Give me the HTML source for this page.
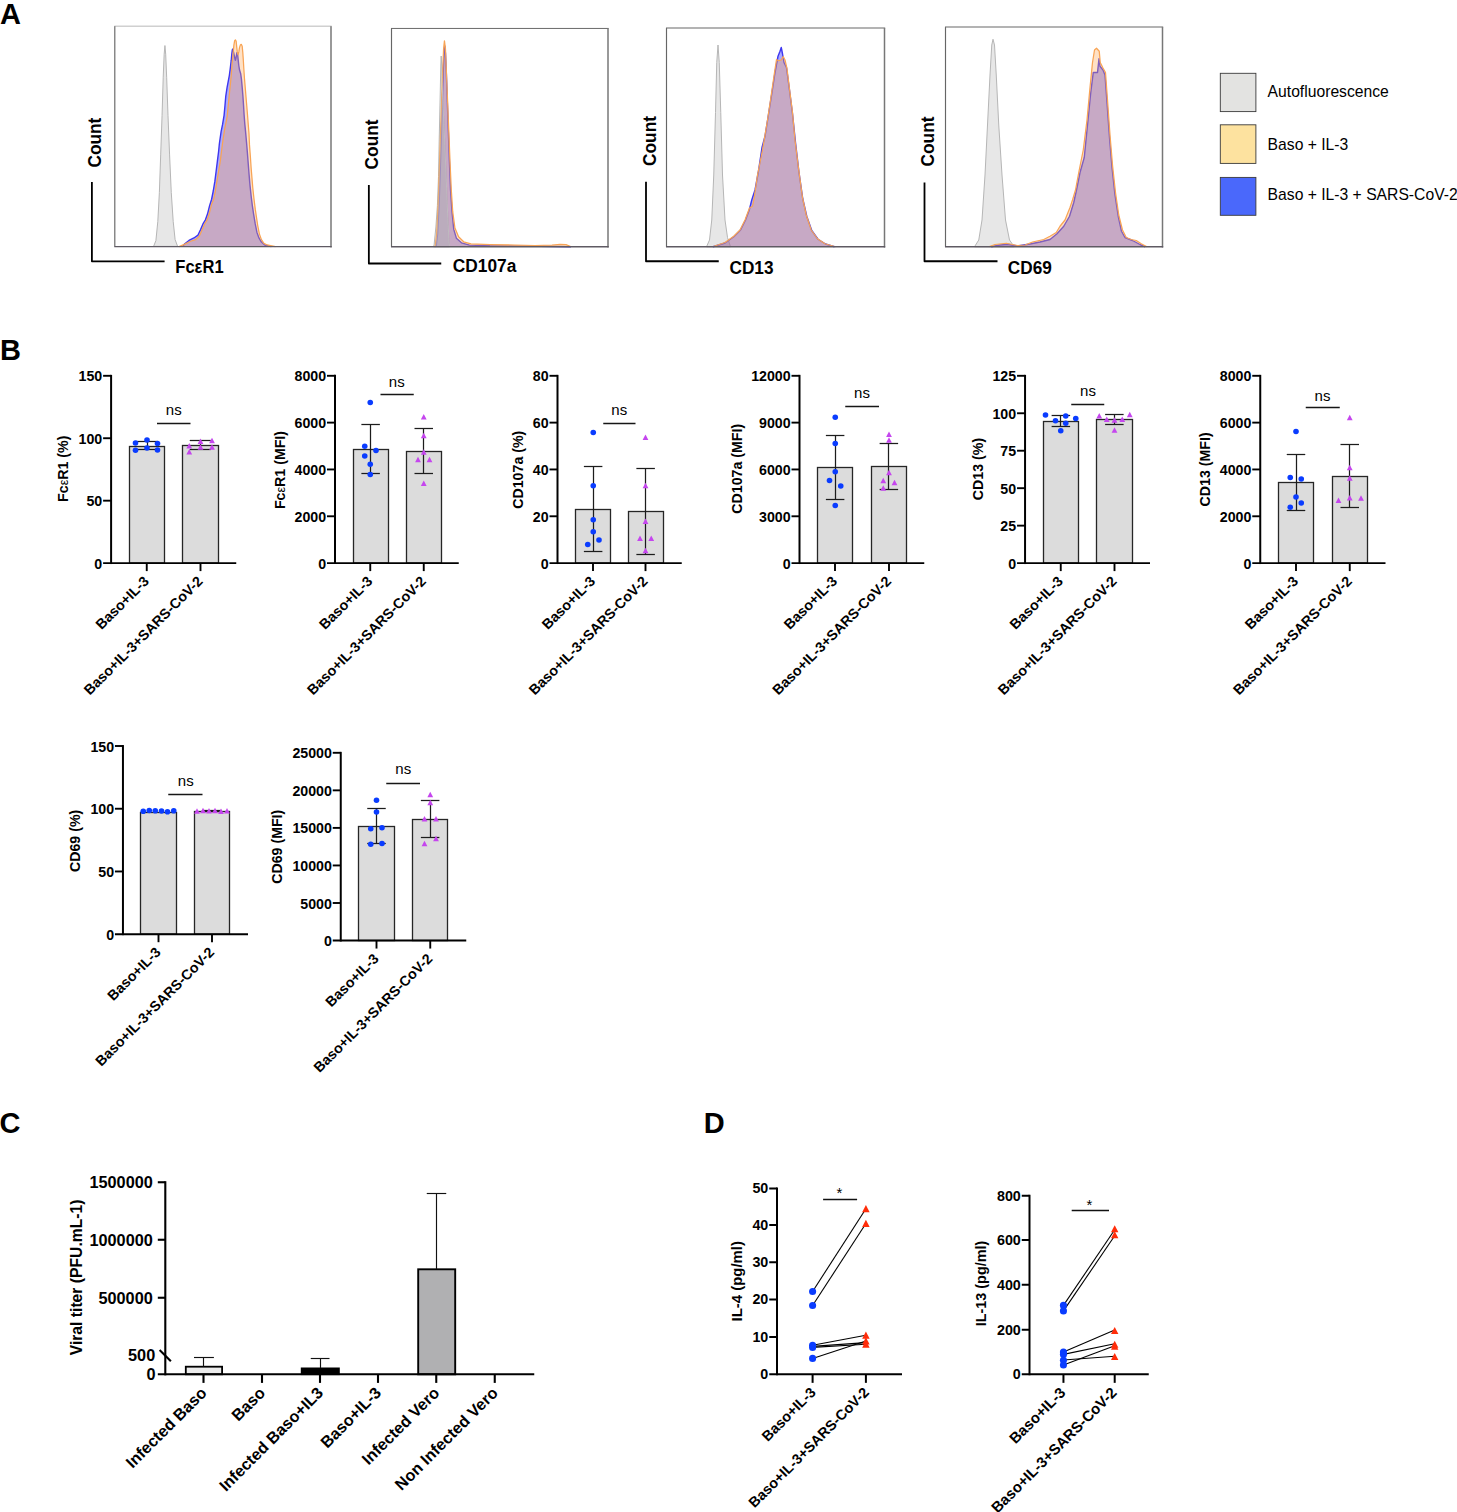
<!DOCTYPE html>
<html><head><meta charset="utf-8"><title>Figure</title>
<style>
html,body{margin:0;padding:0;background:#fff;}
body{width:1457px;height:1512px;overflow:hidden;font-family:"Liberation Sans",sans-serif;}
svg{display:block;}
svg text{font-family:"Liberation Sans",sans-serif;fill:#000;}
</style></head><body>
<svg width="1457" height="1512" viewBox="0 0 1457 1512">
<rect width="1457" height="1512" fill="#fff"/>
<text x="0" y="24" font-size="29" font-weight="bold" text-anchor="start">A</text>
<text x="0" y="360.3" font-size="29" font-weight="bold" text-anchor="start">B</text>
<text x="-0.5" y="1132.6" font-size="29" font-weight="bold" text-anchor="start">C</text>
<text x="703.8" y="1132.5" font-size="29" font-weight="bold" text-anchor="start">D</text>
<line x1="114.3" y1="26.26" x2="331.7" y2="26.26" stroke="#d0d0d0" stroke-width="1.4"/>
<line x1="114.8" y1="26.26" x2="114.8" y2="246.6" stroke="#666" stroke-width="1.15"/>
<line x1="331" y1="26.26" x2="331" y2="247.4" stroke="#777" stroke-width="1.5"/>
<path d="M153.6 246.36L155.9 240.59L157.82 221.38L159.36 192.55L160.71 154.12L162.05 115.69L163.21 77.26L164.17 54.2L164.93 45.55L165.7 54.2L166.66 77.26L168.01 115.69L169.55 154.12L171.28 192.55L173.2 221.38L175.12 239.63L177.62 246.36Z" fill="#e7e7e7" stroke="#b6b6b6" stroke-width="1" stroke-linejoin="round"/>
<path d="M182.36 246.61L184.83 243.73L188.95 240.44L193.89 237.97L198.01 235.08L200.48 229.73L202.95 223.96L205.42 219.84L207.48 214.08L209.54 205.84L211.6 199.25L213.25 191.01L214.89 181.13L216.13 171.24L217.36 161.36L218.6 151.47L219.42 143.24L221.06 131.93L222.57 124.38L224.08 115.32L224.98 105.5L225.74 96.44L227.1 87.38L228.23 81.34L229.36 75.3L230.34 67.75L231.25 60.2L231.78 54.16L232.38 49.63L232.98 48.88L233.51 51.9L234.27 55.67L235.02 59.07L235.4 60.2L236 57.94L236.91 52.65L237.51 53.41L238.04 58.69L238.8 65.49L239.55 70.02L240.69 73.79L241.44 79.08L242.2 87.38L242.95 96.44L243.55 105.5L244.08 114.56L244.84 124.38L245.59 131.93L246.61 143.24L247.43 153.12L248.25 163.83L249.08 174.54L249.9 184.42L251.14 195.96L252.37 205.84L253.61 214.08L255.26 223.96L256.9 232.2L258.96 237.97L261.43 242.08L264.73 244.97L271.32 246.61Z" fill="#2828ff" fill-opacity="0.4" stroke="none"/>
<path d="M182.36 246.61L184.83 243.73L188.95 240.44L193.89 237.97L198.01 235.08L200.48 229.73L202.95 223.96L205.42 219.84L207.48 214.08L209.54 205.84L211.6 199.25L213.25 191.01L214.89 181.13L216.13 171.24L217.36 161.36L218.6 151.47L219.42 143.24L221.06 131.93L222.57 124.38L224.08 115.32L224.98 105.5L225.74 96.44L227.1 87.38L228.23 81.34L229.36 75.3L230.34 67.75L231.25 60.2L231.78 54.16L232.38 49.63L232.98 48.88L233.51 51.9L234.27 55.67L235.02 59.07L235.4 60.2L236 57.94L236.91 52.65L237.51 53.41L238.04 58.69L238.8 65.49L239.55 70.02L240.69 73.79L241.44 79.08L242.2 87.38L242.95 96.44L243.55 105.5L244.08 114.56L244.84 124.38L245.59 131.93L246.61 143.24L247.43 153.12L248.25 163.83L249.08 174.54L249.9 184.42L251.14 195.96L252.37 205.84L253.61 214.08L255.26 223.96L256.9 232.2L258.96 237.97L261.43 242.08L264.73 244.97L271.32 246.61" fill="none" stroke="#3d36f0" stroke-width="1.4" stroke-linejoin="round"/>
<path d="M179.06 246.61L184.83 244.14L190.59 241.26L195.54 239.61L199.24 236.32L202.13 229.73L204.6 223.96L207.07 219.84L209.54 212.43L211.6 204.19L213.66 199.25L215.3 191.01L216.95 181.13L218.6 171.24L220.25 161.36L221.48 151.47L222.72 141.59L224.83 128.15L227.1 116.83L228.23 105.5L229.36 94.18L230.49 82.85L231.25 75.3L231.78 67.75L232.38 60.2L233.14 52.65L233.89 45.1L234.65 40.57L235.4 39.82L236.16 41.33L236.76 47.37L237.29 51.9L238.04 54.92L238.8 51.9L239.55 47.37L240.31 45.1L241.29 44.35L242.2 46.23L242.8 52.65L243.33 60.2L243.86 69.26L244.46 78.32L245.22 87.38L245.97 96.44L246.73 105.5L247.48 114.56L248.24 124.38L248.99 133.44L249.49 144.88L250.31 155.59L251.14 167.95L251.96 177.83L252.78 187.72L254.02 199.25L255.26 209.14L256.49 217.37L257.73 225.61L259.37 233.85L261.43 239.61L263.9 243.32L267.2 244.97L275.44 246.61Z" fill="#ffaa5a" fill-opacity="0.35" stroke="none"/>
<path d="M179.06 246.61L184.83 244.14L190.59 241.26L195.54 239.61L199.24 236.32L202.13 229.73L204.6 223.96L207.07 219.84L209.54 212.43L211.6 204.19L213.66 199.25L215.3 191.01L216.95 181.13L218.6 171.24L220.25 161.36L221.48 151.47L222.72 141.59L224.83 128.15L227.1 116.83L228.23 105.5L229.36 94.18L230.49 82.85L231.25 75.3L231.78 67.75L232.38 60.2L233.14 52.65L233.89 45.1L234.65 40.57L235.4 39.82L236.16 41.33L236.76 47.37L237.29 51.9L238.04 54.92L238.8 51.9L239.55 47.37L240.31 45.1L241.29 44.35L242.2 46.23L242.8 52.65L243.33 60.2L243.86 69.26L244.46 78.32L245.22 87.38L245.97 96.44L246.73 105.5L247.48 114.56L248.24 124.38L248.99 133.44L249.49 144.88L250.31 155.59L251.14 167.95L251.96 177.83L252.78 187.72L254.02 199.25L255.26 209.14L256.49 217.37L257.73 225.61L259.37 233.85L261.43 239.61L263.9 243.32L267.2 244.97L275.44 246.61" fill="none" stroke="#f8a455" stroke-width="1.25" stroke-linejoin="round"/>
<line x1="114.3" y1="246.6" x2="331.7" y2="246.6" stroke="#5f5a63" stroke-width="1.3"/>
<path d="M91.9 182L91.9 261.3L164.6 261.3" fill="none" stroke="#000" stroke-width="1.8" stroke-linejoin="round"/>
<text x="101.2" y="142.6" font-size="19" font-weight="bold" text-anchor="middle" transform="rotate(-90 101.2 142.6)" textLength="50" lengthAdjust="spacingAndGlyphs">Count</text>
<text x="175.3" y="273" font-size="17.5" font-weight="bold" text-anchor="start" textLength="48.3" lengthAdjust="spacingAndGlyphs">FcεR1</text>
<line x1="391" y1="28.45" x2="608.7" y2="28.45" stroke="#6a6a6a" stroke-width="1.0"/>
<line x1="391.5" y1="28.45" x2="391.5" y2="246.75" stroke="#666" stroke-width="1.15"/>
<line x1="608" y1="28.45" x2="608" y2="247.55" stroke="#777" stroke-width="1.5"/>
<path d="M433.5 246.75L434.1 244.8L435.9 227L437.4 205.5L438.5 176.4L439.2 140L440.2 95L440.8 65L441.2 56L441.7 65L442.6 95L444.65 140L446.1 176L447.6 213L449 242L449.6 246.75Z" fill="#e7e7e7" stroke="#b6b6b6" stroke-width="1" stroke-linejoin="round"/>
<path d="M435.4 246.75L436.3 245.43L437.61 233.78L439.07 204.67L440.52 161L441.83 117.34L443.14 73.67L444.02 53.29L444.75 46.01L445.47 53.29L446.35 73.67L447.37 102.78L448.38 131.89L449.4 161L450.57 190.12L452.02 211.95L453.77 229.42L456.39 238.15L461.48 242.81L469.49 245.14L490 245.8L540 246.2L571 246.75Z" fill="#2828ff" fill-opacity="0.4" stroke="none"/>
<path d="M435.4 246.75L436.3 245.43L437.61 233.78L439.07 204.67L440.52 161L441.83 117.34L443.14 73.67L444.02 53.29L444.75 46.01L445.47 53.29L446.35 73.67L447.37 102.78L448.38 131.89L449.4 161L450.57 190.12L452.02 211.95L453.77 229.42L456.39 238.15L461.48 242.81L469.49 245.14L490 245.8L540 246.2L571 246.75" fill="none" stroke="#3d36f0" stroke-width="1.4" stroke-linejoin="round"/>
<path d="M434.6 246.75L435.28 245.43L436.74 233.78L438.2 204.67L439.65 161L441.11 117.34L442.56 73.67L443.58 48.92L444.45 40.92L445.47 48.92L446.49 73.67L447.66 102.78L448.82 131.89L449.99 161L451.3 190.12L452.75 211.95L454.93 227.96L458.57 236.7L463.67 241.79L470.95 243.97L490 244.6L515 245.1L535 245.5L552 245.2L560 244.3L566 244.6L571.25 246.75Z" fill="#ffaa5a" fill-opacity="0.35" stroke="none"/>
<path d="M434.6 246.75L435.28 245.43L436.74 233.78L438.2 204.67L439.65 161L441.11 117.34L442.56 73.67L443.58 48.92L444.45 40.92L445.47 48.92L446.49 73.67L447.66 102.78L448.82 131.89L449.99 161L451.3 190.12L452.75 211.95L454.93 227.96L458.57 236.7L463.67 241.79L470.95 243.97L490 244.6L515 245.1L535 245.5L552 245.2L560 244.3L566 244.6L571.25 246.75" fill="none" stroke="#f8a455" stroke-width="1.25" stroke-linejoin="round"/>
<clipPath id="cg2"><path d="M434.6 246.75L435.28 245.43L436.74 233.78L438.2 204.67L439.65 161L441.11 117.34L442.56 73.67L443.58 48.92L444.45 40.92L445.47 48.92L446.49 73.67L447.66 102.78L448.82 131.89L449.99 161L451.3 190.12L452.75 211.95L454.93 227.96L458.57 236.7L463.67 241.79L470.95 243.97L490 244.6L515 245.1L535 245.5L552 245.2L560 244.3L566 244.6L571.25 246.75Z"/></clipPath>
<path d="M433.5 246.75L434.1 244.8L435.9 227L437.4 205.5L438.5 176.4L439.2 140L440.2 95L440.8 65L441.2 56L441.7 65L442.6 95L444.65 140L446.1 176L447.6 213L449 242L449.6 246.75Z" fill="#b9b9c0" fill-opacity="0.5" stroke="#c4c4c4" stroke-width="0.8" clip-path="url(#cg2)"/>
<line x1="391" y1="246.75" x2="608.7" y2="246.75" stroke="#5f5a63" stroke-width="1.3"/>
<path d="M368.85 185L368.85 263.5L441.25 263.5" fill="none" stroke="#000" stroke-width="1.8" stroke-linejoin="round"/>
<text x="378" y="144.4" font-size="19" font-weight="bold" text-anchor="middle" transform="rotate(-90 378 144.4)" textLength="50" lengthAdjust="spacingAndGlyphs">Count</text>
<text x="452.8" y="271.7" font-size="17.5" font-weight="bold" text-anchor="start" textLength="63.5" lengthAdjust="spacingAndGlyphs">CD107a</text>
<line x1="666" y1="28.07" x2="885.2" y2="28.07" stroke="#9a9a9a" stroke-width="1.5"/>
<line x1="666.5" y1="28.07" x2="666.5" y2="246.75" stroke="#666" stroke-width="1.15"/>
<line x1="884.5" y1="28.07" x2="884.5" y2="247.55" stroke="#777" stroke-width="1.5"/>
<path d="M706.5 246.75L709.5 240L711.75 220L713.75 175L715.5 112.5L716.75 62.5L718 45L719.25 62.5L720.75 112.5L722.5 175L725 220L727.5 237.5L730.5 246.75Z" fill="#e7e7e7" stroke="#b6b6b6" stroke-width="1" stroke-linejoin="round"/>
<path d="M713 246.75L725 243L733.75 236.75L740.5 230L745.5 220L749.25 210L751.75 200L755 190L758.25 172.5L762 147.5L765 136.25L768 117.5L771.75 93.75L775 72.5L778 56.25L780 51.25L781.25 47.5L782.5 53.75L784 62.5L786.5 67.5L789 86.25L792.5 113.75L795.5 142.5L799 172.5L802.75 198.75L806.75 216.25L811.75 230.5L818 239.25L825.5 244L834.5 246.75Z" fill="#2828ff" fill-opacity="0.4" stroke="none"/>
<path d="M713 246.75L725 243L733.75 236.75L740.5 230L745.5 220L749.25 210L751.75 200L755 190L758.25 172.5L762 147.5L765 136.25L768 117.5L771.75 93.75L775 72.5L778 56.25L780 51.25L781.25 47.5L782.5 53.75L784 62.5L786.5 67.5L789 86.25L792.5 113.75L795.5 142.5L799 172.5L802.75 198.75L806.75 216.25L811.75 230.5L818 239.25L825.5 244L834.5 246.75" fill="none" stroke="#3d36f0" stroke-width="1.4" stroke-linejoin="round"/>
<path d="M712.5 246.75L725 242.5L733.75 236.25L740 230L745 220L749.5 208L752.5 206.25L754.25 197.5L757.5 175L762.5 150L767.5 120L771.25 95L774.5 72.5L776.5 59.5L778.5 60.75L781.25 60L783.25 56.5L785 60L787 68.75L789 85L792.5 112.5L795 140L798.75 170L802.5 197.5L806.25 215L811.25 230L817.5 238.75L825 243.75L835.5 246.75Z" fill="#ffaa5a" fill-opacity="0.35" stroke="none"/>
<path d="M712.5 246.75L725 242.5L733.75 236.25L740 230L745 220L749.5 208L752.5 206.25L754.25 197.5L757.5 175L762.5 150L767.5 120L771.25 95L774.5 72.5L776.5 59.5L778.5 60.75L781.25 60L783.25 56.5L785 60L787 68.75L789 85L792.5 112.5L795 140L798.75 170L802.5 197.5L806.25 215L811.25 230L817.5 238.75L825 243.75L835.5 246.75" fill="none" stroke="#f8a455" stroke-width="1.25" stroke-linejoin="round"/>
<line x1="666" y1="246.75" x2="885.2" y2="246.75" stroke="#5f5a63" stroke-width="1.3"/>
<path d="M646 181.75L646 261.25L718.75 261.25" fill="none" stroke="#000" stroke-width="1.8" stroke-linejoin="round"/>
<text x="655.5" y="141" font-size="19" font-weight="bold" text-anchor="middle" transform="rotate(-90 655.5 141)" textLength="50" lengthAdjust="spacingAndGlyphs">Count</text>
<text x="729.5" y="273.7" font-size="17.5" font-weight="bold" text-anchor="start" textLength="44" lengthAdjust="spacingAndGlyphs">CD13</text>
<line x1="945" y1="27.08" x2="1163.2" y2="27.08" stroke="#9a9a9a" stroke-width="1.5"/>
<line x1="945.5" y1="27.08" x2="945.5" y2="246.75" stroke="#666" stroke-width="1.15"/>
<line x1="1162.5" y1="27.08" x2="1162.5" y2="247.55" stroke="#777" stroke-width="1.5"/>
<path d="M974.5 246.75L978.75 240L982 220L985 175L987.5 125L990 75L991.75 45L993 39.25L994.5 45L996.25 75L998.75 125L1002 175L1005.5 220L1009.5 240L1014.25 246.75Z" fill="#e7e7e7" stroke="#b6b6b6" stroke-width="1" stroke-linejoin="round"/>
<path d="M991.25 246.75L1000 245L1007.5 244.25L1017.5 246L1030 244L1040 242L1050 239.5L1057 233.75L1063.75 226.25L1069.5 216.25L1073.75 202.5L1077 187.5L1080 172.5L1084.25 157.5L1087.5 125L1090.75 92.5L1093.25 72.5L1097.5 72.5L1099 58.75L1100 66.25L1103 70L1105 75L1107 102.5L1109.5 137.5L1112 167.5L1115 195L1118.25 216.25L1121.5 231.25L1125 237.5L1132.5 240.5L1140 244.5L1145 246.75Z" fill="#2828ff" fill-opacity="0.4" stroke="none"/>
<path d="M991.25 246.75L1000 245L1007.5 244.25L1017.5 246L1030 244L1040 242L1050 239.5L1057 233.75L1063.75 226.25L1069.5 216.25L1073.75 202.5L1077 187.5L1080 172.5L1084.25 157.5L1087.5 125L1090.75 92.5L1093.25 72.5L1097.5 72.5L1099 58.75L1100 66.25L1103 70L1105 75L1107 102.5L1109.5 137.5L1112 167.5L1115 195L1118.25 216.25L1121.5 231.25L1125 237.5L1132.5 240.5L1140 244.5L1145 246.75" fill="none" stroke="#3d36f0" stroke-width="1.4" stroke-linejoin="round"/>
<path d="M988.75 246.75L995 244.5L1006.25 243.25L1017.5 245.5L1025 245L1032.5 242L1043.75 239.5L1050 236.25L1056.25 232.5L1060 226.25L1065 220L1070 207.5L1072.5 200L1075.5 190L1078.75 172.5L1083.25 150L1087 120L1090 87.5L1092.5 62.5L1094.5 50L1096.5 48.25L1099.25 51.25L1100.25 62.5L1103 68L1105.5 72.5L1107.5 100L1110 135L1112.5 165L1115.5 192.5L1118.75 215L1122.5 230L1126.25 237.5L1131.25 239.5L1136.25 240.5L1141.25 243.75L1147 246.75Z" fill="#ffaa5a" fill-opacity="0.35" stroke="none"/>
<path d="M988.75 246.75L995 244.5L1006.25 243.25L1017.5 245.5L1025 245L1032.5 242L1043.75 239.5L1050 236.25L1056.25 232.5L1060 226.25L1065 220L1070 207.5L1072.5 200L1075.5 190L1078.75 172.5L1083.25 150L1087 120L1090 87.5L1092.5 62.5L1094.5 50L1096.5 48.25L1099.25 51.25L1100.25 62.5L1103 68L1105.5 72.5L1107.5 100L1110 135L1112.5 165L1115.5 192.5L1118.75 215L1122.5 230L1126.25 237.5L1131.25 239.5L1136.25 240.5L1141.25 243.75L1147 246.75" fill="none" stroke="#f8a455" stroke-width="1.25" stroke-linejoin="round"/>
<line x1="945" y1="246.75" x2="1163.2" y2="246.75" stroke="#5f5a63" stroke-width="1.3"/>
<path d="M924.5 182.5L924.5 261.25L997.5 261.25" fill="none" stroke="#000" stroke-width="1.8" stroke-linejoin="round"/>
<text x="934" y="141.5" font-size="19" font-weight="bold" text-anchor="middle" transform="rotate(-90 934 141.5)" textLength="50" lengthAdjust="spacingAndGlyphs">Count</text>
<text x="1007.8" y="273.7" font-size="17.5" font-weight="bold" text-anchor="start" textLength="44" lengthAdjust="spacingAndGlyphs">CD69</text>
<rect x="1220.3" y="73.3" width="35.6" height="38.3" fill="#e3e3e1" stroke="#3a3a3a" stroke-width="0.9"/>
<rect x="1220.3" y="124.8" width="35.6" height="38.6" fill="#fde29f" stroke="#3a3a3a" stroke-width="0.9"/>
<rect x="1220.3" y="177.4" width="35.6" height="37.9" fill="#4a68fb" stroke="#3a3a3a" stroke-width="0.9"/>
<text x="1267.6" y="96.7" font-size="15.7" font-weight="normal" text-anchor="start">Autofluorescence</text>
<text x="1267.6" y="150.2" font-size="15.7" font-weight="normal" text-anchor="start">Baso + IL-3</text>
<text x="1267.6" y="199.9" font-size="15.7" font-weight="normal" text-anchor="start">Baso + IL-3 + SARS-CoV-2</text>
<rect x="129.5" y="446.5" width="35" height="116.6" fill="#dcdcdc" stroke="#262626" stroke-width="1.3"/>
<rect x="182.5" y="445.5" width="36" height="117.6" fill="#dcdcdc" stroke="#262626" stroke-width="1.3"/>
<line x1="147.5" y1="441.75" x2="147.5" y2="449.5" stroke="#1c1c1c" stroke-width="1.25" stroke-linecap="butt"/>
<line x1="136.5" y1="441.5" x2="157.5" y2="441.5" stroke="#1c1c1c" stroke-width="1.25" stroke-linecap="butt"/>
<line x1="136.5" y1="449.5" x2="157.5" y2="449.5" stroke="#1c1c1c" stroke-width="1.25" stroke-linecap="butt"/>
<line x1="200.5" y1="440.5" x2="200.5" y2="449.5" stroke="#1c1c1c" stroke-width="1.25" stroke-linecap="butt"/>
<line x1="189.75" y1="440.5" x2="210.75" y2="440.5" stroke="#1c1c1c" stroke-width="1.25" stroke-linecap="butt"/>
<line x1="189.75" y1="449.5" x2="210.75" y2="449.5" stroke="#1c1c1c" stroke-width="1.25" stroke-linecap="butt"/>
<line x1="111.1" y1="374.85" x2="111.1" y2="564.05" stroke="#000" stroke-width="2.0" stroke-linecap="butt"/>
<line x1="103.1" y1="563.1" x2="236.25" y2="563.1" stroke="#000" stroke-width="1.9" stroke-linecap="butt"/>
<line x1="103.1" y1="375.8" x2="111.1" y2="375.8" stroke="#000" stroke-width="1.9" stroke-linecap="butt"/>
<text x="102.2" y="381.3" font-size="14.2" font-weight="bold" text-anchor="end">150</text>
<line x1="103.1" y1="438.23" x2="111.1" y2="438.23" stroke="#000" stroke-width="1.9" stroke-linecap="butt"/>
<text x="102.2" y="443.73" font-size="14.2" font-weight="bold" text-anchor="end">100</text>
<line x1="103.1" y1="500.67" x2="111.1" y2="500.67" stroke="#000" stroke-width="1.9" stroke-linecap="butt"/>
<text x="102.2" y="506.17" font-size="14.2" font-weight="bold" text-anchor="end">50</text>
<text x="102.2" y="568.6" font-size="14.2" font-weight="bold" text-anchor="end">0</text>
<line x1="146.75" y1="563.1" x2="146.75" y2="571.1" stroke="#000" stroke-width="1.9" stroke-linecap="butt"/>
<line x1="200.5" y1="563.1" x2="200.5" y2="571.1" stroke="#000" stroke-width="1.9" stroke-linecap="butt"/>
<circle cx="135.5" cy="443" r="2.8" fill="#0a3cff"/>
<circle cx="147" cy="440" r="2.8" fill="#0a3cff"/>
<circle cx="157.5" cy="443.5" r="2.8" fill="#0a3cff"/>
<circle cx="135.5" cy="450.25" r="2.8" fill="#0a3cff"/>
<circle cx="147" cy="448" r="2.8" fill="#0a3cff"/>
<circle cx="157.5" cy="450" r="2.8" fill="#0a3cff"/>
<path d="M186.35 448.45L192.15 448.45L189.25 443.05Z" fill="#c546ee"/>
<path d="M197.6 443.95L203.4 443.95L200.5 438.55Z" fill="#c546ee"/>
<path d="M209.1 443.2L214.9 443.2L212 437.8Z" fill="#c546ee"/>
<path d="M186.35 454.45L192.15 454.45L189.25 449.05Z" fill="#c546ee"/>
<path d="M197.6 449.7L203.4 449.7L200.5 444.3Z" fill="#c546ee"/>
<path d="M209.1 449.7L214.9 449.7L212 444.3Z" fill="#c546ee"/>
<text x="173.75" y="414.5" font-size="15" font-weight="normal" text-anchor="middle">ns</text>
<line x1="157" y1="423.5" x2="190.5" y2="423.5" stroke="#161616" stroke-width="1.3" stroke-linecap="butt"/>
<text x="68" y="468.75" font-size="14.2" font-weight="bold" text-anchor="middle" transform="rotate(-90 68 468.75)">Fc<tspan font-weight="normal" font-size="12.5">ε</tspan>R1 (%)</text>
<text x="149.75" y="582.1" font-size="14.2" font-weight="bold" text-anchor="end" transform="rotate(-45 149.75 582.1)">Baso+IL-3</text>
<text x="203.5" y="582.1" font-size="14.2" font-weight="bold" text-anchor="end" transform="rotate(-45 203.5 582.1)">Baso+IL-3+SARS-CoV-2</text>
<rect x="353.5" y="449.5" width="35" height="113.6" fill="#dcdcdc" stroke="#262626" stroke-width="1.3"/>
<rect x="406.5" y="451.5" width="35" height="111.6" fill="#dcdcdc" stroke="#262626" stroke-width="1.3"/>
<line x1="370.5" y1="424.25" x2="370.5" y2="473.75" stroke="#1c1c1c" stroke-width="1.25" stroke-linecap="butt"/>
<line x1="361.38" y1="424.5" x2="379.88" y2="424.5" stroke="#1c1c1c" stroke-width="1.25" stroke-linecap="butt"/>
<line x1="361.38" y1="473.5" x2="379.88" y2="473.5" stroke="#1c1c1c" stroke-width="1.25" stroke-linecap="butt"/>
<line x1="423.5" y1="428" x2="423.5" y2="473.5" stroke="#1c1c1c" stroke-width="1.25" stroke-linecap="butt"/>
<line x1="414.5" y1="428.5" x2="433" y2="428.5" stroke="#1c1c1c" stroke-width="1.25" stroke-linecap="butt"/>
<line x1="414.5" y1="473.5" x2="433" y2="473.5" stroke="#1c1c1c" stroke-width="1.25" stroke-linecap="butt"/>
<line x1="335" y1="374.85" x2="335" y2="564.05" stroke="#000" stroke-width="2.0" stroke-linecap="butt"/>
<line x1="327" y1="563.1" x2="458.75" y2="563.1" stroke="#000" stroke-width="1.9" stroke-linecap="butt"/>
<line x1="327" y1="375.8" x2="335" y2="375.8" stroke="#000" stroke-width="1.9" stroke-linecap="butt"/>
<text x="326.1" y="381.3" font-size="14.2" font-weight="bold" text-anchor="end">8000</text>
<line x1="327" y1="422.62" x2="335" y2="422.62" stroke="#000" stroke-width="1.9" stroke-linecap="butt"/>
<text x="326.1" y="428.12" font-size="14.2" font-weight="bold" text-anchor="end">6000</text>
<line x1="327" y1="469.45" x2="335" y2="469.45" stroke="#000" stroke-width="1.9" stroke-linecap="butt"/>
<text x="326.1" y="474.95" font-size="14.2" font-weight="bold" text-anchor="end">4000</text>
<line x1="327" y1="516.28" x2="335" y2="516.28" stroke="#000" stroke-width="1.9" stroke-linecap="butt"/>
<text x="326.1" y="521.78" font-size="14.2" font-weight="bold" text-anchor="end">2000</text>
<text x="326.1" y="568.6" font-size="14.2" font-weight="bold" text-anchor="end">0</text>
<line x1="370.25" y1="563.1" x2="370.25" y2="571.1" stroke="#000" stroke-width="1.9" stroke-linecap="butt"/>
<line x1="423.75" y1="563.1" x2="423.75" y2="571.1" stroke="#000" stroke-width="1.9" stroke-linecap="butt"/>
<circle cx="370.25" cy="402.5" r="2.8" fill="#0a3cff"/>
<circle cx="364.75" cy="446.25" r="2.8" fill="#0a3cff"/>
<circle cx="376" cy="450.5" r="2.8" fill="#0a3cff"/>
<circle cx="364.75" cy="456" r="2.8" fill="#0a3cff"/>
<circle cx="370.25" cy="464.25" r="2.8" fill="#0a3cff"/>
<circle cx="370.25" cy="474.5" r="2.8" fill="#0a3cff"/>
<path d="M420.85 419.45L426.65 419.45L423.75 414.05Z" fill="#c546ee"/>
<path d="M420.85 438.2L426.65 438.2L423.75 432.8Z" fill="#c546ee"/>
<path d="M420.85 454.7L426.65 454.7L423.75 449.3Z" fill="#c546ee"/>
<path d="M415.1 462.2L420.9 462.2L418 456.8Z" fill="#c546ee"/>
<path d="M426.6 462.2L432.4 462.2L429.5 456.8Z" fill="#c546ee"/>
<path d="M420.85 485.95L426.65 485.95L423.75 480.55Z" fill="#c546ee"/>
<text x="396.75" y="386.75" font-size="15" font-weight="normal" text-anchor="middle">ns</text>
<line x1="380.5" y1="394.5" x2="413.75" y2="394.5" stroke="#161616" stroke-width="1.3" stroke-linecap="butt"/>
<text x="285" y="470" font-size="14.2" font-weight="bold" text-anchor="middle" transform="rotate(-90 285 470)">Fc<tspan font-weight="normal" font-size="12.5">ε</tspan>R1 (MFI)</text>
<text x="373.25" y="582.1" font-size="14.2" font-weight="bold" text-anchor="end" transform="rotate(-45 373.25 582.1)">Baso+IL-3</text>
<text x="426.75" y="582.1" font-size="14.2" font-weight="bold" text-anchor="end" transform="rotate(-45 426.75 582.1)">Baso+IL-3+SARS-CoV-2</text>
<rect x="575.5" y="509.5" width="35" height="53.6" fill="#dcdcdc" stroke="#262626" stroke-width="1.3"/>
<rect x="628.5" y="511.5" width="35" height="51.6" fill="#dcdcdc" stroke="#262626" stroke-width="1.3"/>
<line x1="593.5" y1="466" x2="593.5" y2="551.75" stroke="#1c1c1c" stroke-width="1.25" stroke-linecap="butt"/>
<line x1="583.88" y1="466.5" x2="602.38" y2="466.5" stroke="#1c1c1c" stroke-width="1.25" stroke-linecap="butt"/>
<line x1="583.88" y1="551.5" x2="602.38" y2="551.5" stroke="#1c1c1c" stroke-width="1.25" stroke-linecap="butt"/>
<line x1="645.5" y1="468.5" x2="645.5" y2="554.5" stroke="#1c1c1c" stroke-width="1.25" stroke-linecap="butt"/>
<line x1="636.38" y1="468.5" x2="654.88" y2="468.5" stroke="#1c1c1c" stroke-width="1.25" stroke-linecap="butt"/>
<line x1="636.38" y1="554.5" x2="654.88" y2="554.5" stroke="#1c1c1c" stroke-width="1.25" stroke-linecap="butt"/>
<line x1="557.5" y1="374.85" x2="557.5" y2="564.05" stroke="#000" stroke-width="2.0" stroke-linecap="butt"/>
<line x1="549.5" y1="563.1" x2="681.75" y2="563.1" stroke="#000" stroke-width="1.9" stroke-linecap="butt"/>
<line x1="549.5" y1="375.8" x2="557.5" y2="375.8" stroke="#000" stroke-width="1.9" stroke-linecap="butt"/>
<text x="548.6" y="381.3" font-size="14.2" font-weight="bold" text-anchor="end">80</text>
<line x1="549.5" y1="422.62" x2="557.5" y2="422.62" stroke="#000" stroke-width="1.9" stroke-linecap="butt"/>
<text x="548.6" y="428.12" font-size="14.2" font-weight="bold" text-anchor="end">60</text>
<line x1="549.5" y1="469.45" x2="557.5" y2="469.45" stroke="#000" stroke-width="1.9" stroke-linecap="butt"/>
<text x="548.6" y="474.95" font-size="14.2" font-weight="bold" text-anchor="end">40</text>
<line x1="549.5" y1="516.28" x2="557.5" y2="516.28" stroke="#000" stroke-width="1.9" stroke-linecap="butt"/>
<text x="548.6" y="521.78" font-size="14.2" font-weight="bold" text-anchor="end">20</text>
<text x="548.6" y="568.6" font-size="14.2" font-weight="bold" text-anchor="end">0</text>
<line x1="593" y1="563.1" x2="593" y2="571.1" stroke="#000" stroke-width="1.9" stroke-linecap="butt"/>
<line x1="645.5" y1="563.1" x2="645.5" y2="571.1" stroke="#000" stroke-width="1.9" stroke-linecap="butt"/>
<circle cx="593.25" cy="432.5" r="2.8" fill="#0a3cff"/>
<circle cx="593.25" cy="485.75" r="2.8" fill="#0a3cff"/>
<circle cx="593.25" cy="519.75" r="2.8" fill="#0a3cff"/>
<circle cx="593.25" cy="531.75" r="2.8" fill="#0a3cff"/>
<circle cx="599" cy="540" r="2.8" fill="#0a3cff"/>
<circle cx="587.75" cy="544.5" r="2.8" fill="#0a3cff"/>
<path d="M642.6 439.95L648.4 439.95L645.5 434.55Z" fill="#c546ee"/>
<path d="M642.6 488.2L648.4 488.2L645.5 482.8Z" fill="#c546ee"/>
<path d="M642.6 523.95L648.4 523.95L645.5 518.55Z" fill="#c546ee"/>
<path d="M637.1 540.95L642.9 540.95L640 535.55Z" fill="#c546ee"/>
<path d="M648.35 540.95L654.15 540.95L651.25 535.55Z" fill="#c546ee"/>
<path d="M642.6 553.2L648.4 553.2L645.5 547.8Z" fill="#c546ee"/>
<text x="619.25" y="415" font-size="15" font-weight="normal" text-anchor="middle">ns</text>
<line x1="603.25" y1="423.5" x2="635.5" y2="423.5" stroke="#161616" stroke-width="1.3" stroke-linecap="butt"/>
<text x="523" y="469.75" font-size="14.2" font-weight="bold" text-anchor="middle" transform="rotate(-90 523 469.75)">CD107a (%)</text>
<text x="596" y="582.1" font-size="14.2" font-weight="bold" text-anchor="end" transform="rotate(-45 596 582.1)">Baso+IL-3</text>
<text x="648.5" y="582.1" font-size="14.2" font-weight="bold" text-anchor="end" transform="rotate(-45 648.5 582.1)">Baso+IL-3+SARS-CoV-2</text>
<rect x="817.5" y="467.5" width="35" height="95.6" fill="#dcdcdc" stroke="#262626" stroke-width="1.3"/>
<rect x="871.5" y="466.5" width="35" height="96.6" fill="#dcdcdc" stroke="#262626" stroke-width="1.3"/>
<line x1="835.5" y1="435.75" x2="835.5" y2="499.5" stroke="#1c1c1c" stroke-width="1.25" stroke-linecap="butt"/>
<line x1="825.88" y1="435.5" x2="844.38" y2="435.5" stroke="#1c1c1c" stroke-width="1.25" stroke-linecap="butt"/>
<line x1="825.88" y1="499.5" x2="844.38" y2="499.5" stroke="#1c1c1c" stroke-width="1.25" stroke-linecap="butt"/>
<line x1="888.5" y1="443" x2="888.5" y2="489.25" stroke="#1c1c1c" stroke-width="1.25" stroke-linecap="butt"/>
<line x1="879.62" y1="443.5" x2="898.12" y2="443.5" stroke="#1c1c1c" stroke-width="1.25" stroke-linecap="butt"/>
<line x1="879.62" y1="489.5" x2="898.12" y2="489.5" stroke="#1c1c1c" stroke-width="1.25" stroke-linecap="butt"/>
<line x1="799.5" y1="374.85" x2="799.5" y2="564.05" stroke="#000" stroke-width="2.0" stroke-linecap="butt"/>
<line x1="791.5" y1="563.1" x2="924.25" y2="563.1" stroke="#000" stroke-width="1.9" stroke-linecap="butt"/>
<line x1="791.5" y1="375.8" x2="799.5" y2="375.8" stroke="#000" stroke-width="1.9" stroke-linecap="butt"/>
<text x="790.6" y="381.3" font-size="14.2" font-weight="bold" text-anchor="end">12000</text>
<line x1="791.5" y1="422.62" x2="799.5" y2="422.62" stroke="#000" stroke-width="1.9" stroke-linecap="butt"/>
<text x="790.6" y="428.12" font-size="14.2" font-weight="bold" text-anchor="end">9000</text>
<line x1="791.5" y1="469.45" x2="799.5" y2="469.45" stroke="#000" stroke-width="1.9" stroke-linecap="butt"/>
<text x="790.6" y="474.95" font-size="14.2" font-weight="bold" text-anchor="end">6000</text>
<line x1="791.5" y1="516.28" x2="799.5" y2="516.28" stroke="#000" stroke-width="1.9" stroke-linecap="butt"/>
<text x="790.6" y="521.78" font-size="14.2" font-weight="bold" text-anchor="end">3000</text>
<text x="790.6" y="568.6" font-size="14.2" font-weight="bold" text-anchor="end">0</text>
<line x1="835" y1="563.1" x2="835" y2="571.1" stroke="#000" stroke-width="1.9" stroke-linecap="butt"/>
<line x1="889" y1="563.1" x2="889" y2="571.1" stroke="#000" stroke-width="1.9" stroke-linecap="butt"/>
<circle cx="835.25" cy="417.25" r="2.8" fill="#0a3cff"/>
<circle cx="835.25" cy="443.5" r="2.8" fill="#0a3cff"/>
<circle cx="835.25" cy="471.75" r="2.8" fill="#0a3cff"/>
<circle cx="829.5" cy="480.5" r="2.8" fill="#0a3cff"/>
<circle cx="840.75" cy="486" r="2.8" fill="#0a3cff"/>
<circle cx="835.25" cy="505.5" r="2.8" fill="#0a3cff"/>
<path d="M886.1 436.95L891.9 436.95L889 431.55Z" fill="#c546ee"/>
<path d="M886.1 442.7L891.9 442.7L889 437.3Z" fill="#c546ee"/>
<path d="M886.1 475.2L891.9 475.2L889 469.8Z" fill="#c546ee"/>
<path d="M880.35 483.2L886.15 483.2L883.25 477.8Z" fill="#c546ee"/>
<path d="M891.6 485.2L897.4 485.2L894.5 479.8Z" fill="#c546ee"/>
<path d="M880.35 490.7L886.15 490.7L883.25 485.3Z" fill="#c546ee"/>
<text x="862" y="397.5" font-size="15" font-weight="normal" text-anchor="middle">ns</text>
<line x1="845.25" y1="406.5" x2="879" y2="406.5" stroke="#161616" stroke-width="1.3" stroke-linecap="butt"/>
<text x="742" y="468.75" font-size="14.2" font-weight="bold" text-anchor="middle" transform="rotate(-90 742 468.75)">CD107a (MFI)</text>
<text x="838" y="582.1" font-size="14.2" font-weight="bold" text-anchor="end" transform="rotate(-45 838 582.1)">Baso+IL-3</text>
<text x="892" y="582.1" font-size="14.2" font-weight="bold" text-anchor="end" transform="rotate(-45 892 582.1)">Baso+IL-3+SARS-CoV-2</text>
<rect x="1043.5" y="421.5" width="35" height="141.6" fill="#dcdcdc" stroke="#262626" stroke-width="1.3"/>
<rect x="1096.5" y="419.5" width="36" height="143.6" fill="#dcdcdc" stroke="#262626" stroke-width="1.3"/>
<line x1="1060.5" y1="415.5" x2="1060.5" y2="426.5" stroke="#1c1c1c" stroke-width="1.25" stroke-linecap="butt"/>
<line x1="1051.62" y1="415.5" x2="1070.12" y2="415.5" stroke="#1c1c1c" stroke-width="1.25" stroke-linecap="butt"/>
<line x1="1051.62" y1="426.5" x2="1070.12" y2="426.5" stroke="#1c1c1c" stroke-width="1.25" stroke-linecap="butt"/>
<line x1="1114.5" y1="414" x2="1114.5" y2="424.5" stroke="#1c1c1c" stroke-width="1.25" stroke-linecap="butt"/>
<line x1="1105.12" y1="414.5" x2="1123.62" y2="414.5" stroke="#1c1c1c" stroke-width="1.25" stroke-linecap="butt"/>
<line x1="1105.12" y1="424.5" x2="1123.62" y2="424.5" stroke="#1c1c1c" stroke-width="1.25" stroke-linecap="butt"/>
<line x1="1025.05" y1="374.85" x2="1025.05" y2="564.05" stroke="#000" stroke-width="2.0" stroke-linecap="butt"/>
<line x1="1017.05" y1="563.1" x2="1150" y2="563.1" stroke="#000" stroke-width="1.9" stroke-linecap="butt"/>
<line x1="1017.05" y1="375.8" x2="1025.05" y2="375.8" stroke="#000" stroke-width="1.9" stroke-linecap="butt"/>
<text x="1016.15" y="381.3" font-size="14.2" font-weight="bold" text-anchor="end">125</text>
<line x1="1017.05" y1="413.26" x2="1025.05" y2="413.26" stroke="#000" stroke-width="1.9" stroke-linecap="butt"/>
<text x="1016.15" y="418.76" font-size="14.2" font-weight="bold" text-anchor="end">100</text>
<line x1="1017.05" y1="450.72" x2="1025.05" y2="450.72" stroke="#000" stroke-width="1.9" stroke-linecap="butt"/>
<text x="1016.15" y="456.22" font-size="14.2" font-weight="bold" text-anchor="end">75</text>
<line x1="1017.05" y1="488.18" x2="1025.05" y2="488.18" stroke="#000" stroke-width="1.9" stroke-linecap="butt"/>
<text x="1016.15" y="493.68" font-size="14.2" font-weight="bold" text-anchor="end">50</text>
<line x1="1017.05" y1="525.64" x2="1025.05" y2="525.64" stroke="#000" stroke-width="1.9" stroke-linecap="butt"/>
<text x="1016.15" y="531.14" font-size="14.2" font-weight="bold" text-anchor="end">25</text>
<text x="1016.15" y="568.6" font-size="14.2" font-weight="bold" text-anchor="end">0</text>
<line x1="1060.75" y1="563.1" x2="1060.75" y2="571.1" stroke="#000" stroke-width="1.9" stroke-linecap="butt"/>
<line x1="1114.5" y1="563.1" x2="1114.5" y2="571.1" stroke="#000" stroke-width="1.9" stroke-linecap="butt"/>
<circle cx="1045.5" cy="415" r="2.8" fill="#0a3cff"/>
<circle cx="1065.75" cy="416" r="2.8" fill="#0a3cff"/>
<circle cx="1075.75" cy="418.5" r="2.8" fill="#0a3cff"/>
<circle cx="1055.5" cy="420.75" r="2.8" fill="#0a3cff"/>
<circle cx="1065.75" cy="423.25" r="2.8" fill="#0a3cff"/>
<circle cx="1060.75" cy="430.75" r="2.8" fill="#0a3cff"/>
<path d="M1096.35 418.45L1102.15 418.45L1099.25 413.05Z" fill="#c546ee"/>
<path d="M1126.85 417.2L1132.65 417.2L1129.75 411.8Z" fill="#c546ee"/>
<path d="M1103.85 421.95L1109.65 421.95L1106.75 416.55Z" fill="#c546ee"/>
<path d="M1111.6 422.7L1117.4 422.7L1114.5 417.3Z" fill="#c546ee"/>
<path d="M1119.35 421.95L1125.15 421.95L1122.25 416.55Z" fill="#c546ee"/>
<path d="M1111.6 432.7L1117.4 432.7L1114.5 427.3Z" fill="#c546ee"/>
<text x="1088" y="396.25" font-size="15" font-weight="normal" text-anchor="middle">ns</text>
<line x1="1071.25" y1="404.5" x2="1104.25" y2="404.5" stroke="#161616" stroke-width="1.3" stroke-linecap="butt"/>
<text x="983" y="469" font-size="14.2" font-weight="bold" text-anchor="middle" transform="rotate(-90 983 469)">CD13 (%)</text>
<text x="1063.75" y="582.1" font-size="14.2" font-weight="bold" text-anchor="end" transform="rotate(-45 1063.75 582.1)">Baso+IL-3</text>
<text x="1117.5" y="582.1" font-size="14.2" font-weight="bold" text-anchor="end" transform="rotate(-45 1117.5 582.1)">Baso+IL-3+SARS-CoV-2</text>
<rect x="1278.5" y="482.5" width="35" height="80.6" fill="#dcdcdc" stroke="#262626" stroke-width="1.3"/>
<rect x="1332.5" y="476.5" width="35" height="86.6" fill="#dcdcdc" stroke="#262626" stroke-width="1.3"/>
<line x1="1296.5" y1="454.5" x2="1296.5" y2="510.25" stroke="#1c1c1c" stroke-width="1.25" stroke-linecap="butt"/>
<line x1="1286.75" y1="454.5" x2="1305.25" y2="454.5" stroke="#1c1c1c" stroke-width="1.25" stroke-linecap="butt"/>
<line x1="1286.75" y1="510.5" x2="1305.25" y2="510.5" stroke="#1c1c1c" stroke-width="1.25" stroke-linecap="butt"/>
<line x1="1349.5" y1="444.5" x2="1349.5" y2="507.5" stroke="#1c1c1c" stroke-width="1.25" stroke-linecap="butt"/>
<line x1="1340.5" y1="444.5" x2="1359" y2="444.5" stroke="#1c1c1c" stroke-width="1.25" stroke-linecap="butt"/>
<line x1="1340.5" y1="507.5" x2="1359" y2="507.5" stroke="#1c1c1c" stroke-width="1.25" stroke-linecap="butt"/>
<line x1="1260.25" y1="374.85" x2="1260.25" y2="564.05" stroke="#000" stroke-width="2.0" stroke-linecap="butt"/>
<line x1="1252.25" y1="563.1" x2="1385.5" y2="563.1" stroke="#000" stroke-width="1.9" stroke-linecap="butt"/>
<line x1="1252.25" y1="375.8" x2="1260.25" y2="375.8" stroke="#000" stroke-width="1.9" stroke-linecap="butt"/>
<text x="1251.35" y="381.3" font-size="14.2" font-weight="bold" text-anchor="end">8000</text>
<line x1="1252.25" y1="422.62" x2="1260.25" y2="422.62" stroke="#000" stroke-width="1.9" stroke-linecap="butt"/>
<text x="1251.35" y="428.12" font-size="14.2" font-weight="bold" text-anchor="end">6000</text>
<line x1="1252.25" y1="469.45" x2="1260.25" y2="469.45" stroke="#000" stroke-width="1.9" stroke-linecap="butt"/>
<text x="1251.35" y="474.95" font-size="14.2" font-weight="bold" text-anchor="end">4000</text>
<line x1="1252.25" y1="516.28" x2="1260.25" y2="516.28" stroke="#000" stroke-width="1.9" stroke-linecap="butt"/>
<text x="1251.35" y="521.78" font-size="14.2" font-weight="bold" text-anchor="end">2000</text>
<text x="1251.35" y="568.6" font-size="14.2" font-weight="bold" text-anchor="end">0</text>
<line x1="1296" y1="563.1" x2="1296" y2="571.1" stroke="#000" stroke-width="1.9" stroke-linecap="butt"/>
<line x1="1349.75" y1="563.1" x2="1349.75" y2="571.1" stroke="#000" stroke-width="1.9" stroke-linecap="butt"/>
<circle cx="1296" cy="431.5" r="2.8" fill="#0a3cff"/>
<circle cx="1290.25" cy="477.5" r="2.8" fill="#0a3cff"/>
<circle cx="1301.25" cy="479" r="2.8" fill="#0a3cff"/>
<circle cx="1296" cy="497" r="2.8" fill="#0a3cff"/>
<circle cx="1301.25" cy="503" r="2.8" fill="#0a3cff"/>
<circle cx="1290.25" cy="507.25" r="2.8" fill="#0a3cff"/>
<path d="M1346.85 420.2L1352.65 420.2L1349.75 414.8Z" fill="#c546ee"/>
<path d="M1346.85 470.2L1352.65 470.2L1349.75 464.8Z" fill="#c546ee"/>
<path d="M1346.85 480.7L1352.65 480.7L1349.75 475.3Z" fill="#c546ee"/>
<path d="M1346.85 500.45L1352.65 500.45L1349.75 495.05Z" fill="#c546ee"/>
<path d="M1335.6 502.95L1341.4 502.95L1338.5 497.55Z" fill="#c546ee"/>
<path d="M1358.1 500.7L1363.9 500.7L1361 495.3Z" fill="#c546ee"/>
<text x="1322.5" y="400.75" font-size="15" font-weight="normal" text-anchor="middle">ns</text>
<line x1="1305.75" y1="407.5" x2="1339.75" y2="407.5" stroke="#161616" stroke-width="1.3" stroke-linecap="butt"/>
<text x="1210" y="469.4" font-size="14.2" font-weight="bold" text-anchor="middle" transform="rotate(-90 1210 469.4)">CD13 (MFI)</text>
<text x="1299" y="582.1" font-size="14.2" font-weight="bold" text-anchor="end" transform="rotate(-45 1299 582.1)">Baso+IL-3</text>
<text x="1352.75" y="582.1" font-size="14.2" font-weight="bold" text-anchor="end" transform="rotate(-45 1352.75 582.1)">Baso+IL-3+SARS-CoV-2</text>
<rect x="140.5" y="812.5" width="36" height="121.7" fill="#dcdcdc" stroke="#262626" stroke-width="1.3"/>
<rect x="194.5" y="811.5" width="35" height="122.7" fill="#dcdcdc" stroke="#262626" stroke-width="1.3"/>
<line x1="211.5" y1="810.4" x2="211.5" y2="811.6" stroke="#1c1c1c" stroke-width="1.25" stroke-linecap="butt"/>
<line x1="201.88" y1="810.5" x2="221.88" y2="810.5" stroke="#1c1c1c" stroke-width="1.25" stroke-linecap="butt"/>
<line x1="201.88" y1="811.5" x2="221.88" y2="811.5" stroke="#1c1c1c" stroke-width="1.25" stroke-linecap="butt"/>
<line x1="122.95" y1="745.05" x2="122.95" y2="935.15" stroke="#000" stroke-width="2.0" stroke-linecap="butt"/>
<line x1="114.95" y1="934.2" x2="248" y2="934.2" stroke="#000" stroke-width="1.9" stroke-linecap="butt"/>
<line x1="114.95" y1="746" x2="122.95" y2="746" stroke="#000" stroke-width="1.9" stroke-linecap="butt"/>
<text x="114.05" y="751.5" font-size="14.2" font-weight="bold" text-anchor="end">150</text>
<line x1="114.95" y1="808.73" x2="122.95" y2="808.73" stroke="#000" stroke-width="1.9" stroke-linecap="butt"/>
<text x="114.05" y="814.23" font-size="14.2" font-weight="bold" text-anchor="end">100</text>
<line x1="114.95" y1="871.47" x2="122.95" y2="871.47" stroke="#000" stroke-width="1.9" stroke-linecap="butt"/>
<text x="114.05" y="876.97" font-size="14.2" font-weight="bold" text-anchor="end">50</text>
<text x="114.05" y="939.7" font-size="14.2" font-weight="bold" text-anchor="end">0</text>
<line x1="158.5" y1="934.2" x2="158.5" y2="942.2" stroke="#000" stroke-width="1.9" stroke-linecap="butt"/>
<line x1="212" y1="934.2" x2="212" y2="942.2" stroke="#000" stroke-width="1.9" stroke-linecap="butt"/>
<circle cx="143.25" cy="811.2" r="2.8" fill="#0a3cff"/>
<circle cx="149.25" cy="810.5" r="2.8" fill="#0a3cff"/>
<circle cx="155.25" cy="810.8" r="2.8" fill="#0a3cff"/>
<circle cx="161.5" cy="811" r="2.8" fill="#0a3cff"/>
<circle cx="167.5" cy="811.7" r="2.8" fill="#0a3cff"/>
<circle cx="173.75" cy="810.8" r="2.8" fill="#0a3cff"/>
<path d="M194.1 813.7L199.9 813.7L197 808.3Z" fill="#c546ee"/>
<path d="M200.1 813.2L205.9 813.2L203 807.8Z" fill="#c546ee"/>
<path d="M206.1 813.5L211.9 813.5L209 808.1Z" fill="#c546ee"/>
<path d="M212.1 813.2L217.9 813.2L215 807.8Z" fill="#c546ee"/>
<path d="M218.1 813.9L223.9 813.9L221 808.5Z" fill="#c546ee"/>
<path d="M224.1 813.5L229.9 813.5L227 808.1Z" fill="#c546ee"/>
<text x="185.75" y="785.5" font-size="15" font-weight="normal" text-anchor="middle">ns</text>
<line x1="168.25" y1="794.5" x2="202.5" y2="794.5" stroke="#161616" stroke-width="1.3" stroke-linecap="butt"/>
<text x="80.5" y="840.9" font-size="14.2" font-weight="bold" text-anchor="middle" transform="rotate(-90 80.5 840.9)">CD69 (%)</text>
<text x="161.5" y="953.2" font-size="14.2" font-weight="bold" text-anchor="end" transform="rotate(-45 161.5 953.2)">Baso+IL-3</text>
<text x="215" y="953.2" font-size="14.2" font-weight="bold" text-anchor="end" transform="rotate(-45 215 953.2)">Baso+IL-3+SARS-CoV-2</text>
<rect x="358.5" y="826.5" width="36" height="114.05" fill="#dcdcdc" stroke="#262626" stroke-width="1.3"/>
<rect x="412.5" y="819.5" width="35" height="121.05" fill="#dcdcdc" stroke="#262626" stroke-width="1.3"/>
<line x1="376.5" y1="808.5" x2="376.5" y2="843.5" stroke="#1c1c1c" stroke-width="1.25" stroke-linecap="butt"/>
<line x1="367.25" y1="808.5" x2="385.75" y2="808.5" stroke="#1c1c1c" stroke-width="1.25" stroke-linecap="butt"/>
<line x1="367.25" y1="843.5" x2="385.75" y2="843.5" stroke="#1c1c1c" stroke-width="1.25" stroke-linecap="butt"/>
<line x1="430.5" y1="800" x2="430.5" y2="837.5" stroke="#1c1c1c" stroke-width="1.25" stroke-linecap="butt"/>
<line x1="420.88" y1="800.5" x2="439.38" y2="800.5" stroke="#1c1c1c" stroke-width="1.25" stroke-linecap="butt"/>
<line x1="420.88" y1="837.5" x2="439.38" y2="837.5" stroke="#1c1c1c" stroke-width="1.25" stroke-linecap="butt"/>
<line x1="340.75" y1="751.85" x2="340.75" y2="941.5" stroke="#000" stroke-width="2.0" stroke-linecap="butt"/>
<line x1="332.75" y1="940.55" x2="466.25" y2="940.55" stroke="#000" stroke-width="1.9" stroke-linecap="butt"/>
<line x1="332.75" y1="752.8" x2="340.75" y2="752.8" stroke="#000" stroke-width="1.9" stroke-linecap="butt"/>
<text x="331.85" y="758.3" font-size="14.2" font-weight="bold" text-anchor="end">25000</text>
<line x1="332.75" y1="790.35" x2="340.75" y2="790.35" stroke="#000" stroke-width="1.9" stroke-linecap="butt"/>
<text x="331.85" y="795.85" font-size="14.2" font-weight="bold" text-anchor="end">20000</text>
<line x1="332.75" y1="827.9" x2="340.75" y2="827.9" stroke="#000" stroke-width="1.9" stroke-linecap="butt"/>
<text x="331.85" y="833.4" font-size="14.2" font-weight="bold" text-anchor="end">15000</text>
<line x1="332.75" y1="865.45" x2="340.75" y2="865.45" stroke="#000" stroke-width="1.9" stroke-linecap="butt"/>
<text x="331.85" y="870.95" font-size="14.2" font-weight="bold" text-anchor="end">10000</text>
<line x1="332.75" y1="903" x2="340.75" y2="903" stroke="#000" stroke-width="1.9" stroke-linecap="butt"/>
<text x="331.85" y="908.5" font-size="14.2" font-weight="bold" text-anchor="end">5000</text>
<text x="331.85" y="946.05" font-size="14.2" font-weight="bold" text-anchor="end">0</text>
<line x1="376.5" y1="940.55" x2="376.5" y2="948.55" stroke="#000" stroke-width="1.9" stroke-linecap="butt"/>
<line x1="430.25" y1="940.55" x2="430.25" y2="948.55" stroke="#000" stroke-width="1.9" stroke-linecap="butt"/>
<circle cx="376.5" cy="800.25" r="2.8" fill="#0a3cff"/>
<circle cx="376.5" cy="812" r="2.8" fill="#0a3cff"/>
<circle cx="370.75" cy="828.75" r="2.8" fill="#0a3cff"/>
<circle cx="382" cy="827.75" r="2.8" fill="#0a3cff"/>
<circle cx="370.75" cy="844.25" r="2.8" fill="#0a3cff"/>
<circle cx="382" cy="843.5" r="2.8" fill="#0a3cff"/>
<path d="M427.35 797.2L433.15 797.2L430.25 791.8Z" fill="#c546ee"/>
<path d="M427.35 805.2L433.15 805.2L430.25 799.8Z" fill="#c546ee"/>
<path d="M421.6 821.45L427.4 821.45L424.5 816.05Z" fill="#c546ee"/>
<path d="M433.1 821.45L438.9 821.45L436 816.05Z" fill="#c546ee"/>
<path d="M433.1 841.2L438.9 841.2L436 835.8Z" fill="#c546ee"/>
<path d="M421.6 846.2L427.4 846.2L424.5 840.8Z" fill="#c546ee"/>
<text x="403.25" y="773.9" font-size="15" font-weight="normal" text-anchor="middle">ns</text>
<line x1="386.25" y1="783.5" x2="420" y2="783.5" stroke="#161616" stroke-width="1.3" stroke-linecap="butt"/>
<text x="281.9" y="846.75" font-size="14.2" font-weight="bold" text-anchor="middle" transform="rotate(-90 281.9 846.75)">CD69 (MFI)</text>
<text x="379.5" y="959.55" font-size="14.2" font-weight="bold" text-anchor="end" transform="rotate(-45 379.5 959.55)">Baso+IL-3</text>
<text x="433.25" y="959.55" font-size="14.2" font-weight="bold" text-anchor="end" transform="rotate(-45 433.25 959.55)">Baso+IL-3+SARS-CoV-2</text>
<rect x="185.8" y="1366.7" width="36.3" height="7.6" fill="#ececec" stroke="#000" stroke-width="1.8"/>
<line x1="203.5" y1="1357.5" x2="203.5" y2="1366.5" stroke="#111" stroke-width="1.15" stroke-linecap="butt"/>
<line x1="194" y1="1357.5" x2="213.9" y2="1357.5" stroke="#111" stroke-width="1.15" stroke-linecap="butt"/>
<rect x="301.6" y="1368.3" width="37.4" height="6" fill="#000" stroke="#000" stroke-width="1.6"/>
<line x1="320.5" y1="1358.5" x2="320.5" y2="1368" stroke="#111" stroke-width="1.15" stroke-linecap="butt"/>
<line x1="310.75" y1="1358.5" x2="329.5" y2="1358.5" stroke="#111" stroke-width="1.15" stroke-linecap="butt"/>
<rect x="418.2" y="1269.3" width="37" height="105" fill="#b0b0b2" stroke="#000" stroke-width="1.9"/>
<line x1="436.5" y1="1193.5" x2="436.5" y2="1269" stroke="#111" stroke-width="1.15" stroke-linecap="butt"/>
<line x1="426.75" y1="1193.5" x2="446.25" y2="1193.5" stroke="#111" stroke-width="1.15" stroke-linecap="butt"/>
<line x1="165.3" y1="1181.2" x2="165.3" y2="1375.35" stroke="#000" stroke-width="2.1" stroke-linecap="butt"/>
<line x1="157.8" y1="1374.3" x2="534.25" y2="1374.3" stroke="#000" stroke-width="2.1" stroke-linecap="butt"/>
<line x1="157.8" y1="1182.25" x2="165.3" y2="1182.25" stroke="#000" stroke-width="2.1" stroke-linecap="butt"/>
<text x="152.8" y="1188.28" font-size="16.3" font-weight="bold" text-anchor="end">1500000</text>
<line x1="157.8" y1="1239.75" x2="165.3" y2="1239.75" stroke="#000" stroke-width="2.1" stroke-linecap="butt"/>
<text x="152.8" y="1245.78" font-size="16.3" font-weight="bold" text-anchor="end">1000000</text>
<line x1="157.8" y1="1297.75" x2="165.3" y2="1297.75" stroke="#000" stroke-width="2.1" stroke-linecap="butt"/>
<text x="152.8" y="1303.78" font-size="16.3" font-weight="bold" text-anchor="end">500000</text>
<text x="155.2" y="1361.05" font-size="16.3" font-weight="bold" text-anchor="end">500</text>
<text x="155.6" y="1379.85" font-size="16.3" font-weight="bold" text-anchor="end">0</text>
<line x1="159.6" y1="1350" x2="170.9" y2="1361.2" stroke="#000" stroke-width="2.1" stroke-linecap="butt"/>
<line x1="203.5" y1="1374.3" x2="203.5" y2="1382.9" stroke="#000" stroke-width="2.1" stroke-linecap="butt"/>
<text x="207.7" y="1393.9" font-size="16.2" font-weight="bold" text-anchor="end" transform="rotate(-45 207.7 1393.9)">Infected Baso</text>
<line x1="262" y1="1374.3" x2="262" y2="1382.9" stroke="#000" stroke-width="2.1" stroke-linecap="butt"/>
<text x="266.2" y="1393.9" font-size="16.2" font-weight="bold" text-anchor="end" transform="rotate(-45 266.2 1393.9)">Baso</text>
<line x1="320" y1="1374.3" x2="320" y2="1382.9" stroke="#000" stroke-width="2.1" stroke-linecap="butt"/>
<text x="324.2" y="1393.9" font-size="16.2" font-weight="bold" text-anchor="end" transform="rotate(-45 324.2 1393.9)">Infected Baso+IL3</text>
<line x1="378" y1="1374.3" x2="378" y2="1382.9" stroke="#000" stroke-width="2.1" stroke-linecap="butt"/>
<text x="382.2" y="1393.9" font-size="16.2" font-weight="bold" text-anchor="end" transform="rotate(-45 382.2 1393.9)">Baso+IL-3</text>
<line x1="436.25" y1="1374.3" x2="436.25" y2="1382.9" stroke="#000" stroke-width="2.1" stroke-linecap="butt"/>
<text x="440.45" y="1393.9" font-size="16.2" font-weight="bold" text-anchor="end" transform="rotate(-45 440.45 1393.9)">Infected Vero</text>
<line x1="494.75" y1="1374.3" x2="494.75" y2="1382.9" stroke="#000" stroke-width="2.1" stroke-linecap="butt"/>
<text x="498.95" y="1393.9" font-size="16.2" font-weight="bold" text-anchor="end" transform="rotate(-45 498.95 1393.9)">Non Infected Vero</text>
<text x="81.8" y="1277.4" font-size="15.7" font-weight="bold" text-anchor="middle" transform="rotate(-90 81.8 1277.4)">Viral titer (PFU.mL-1)</text>
<line x1="777" y1="1187.5" x2="777" y2="1375.25" stroke="#000" stroke-width="2.0" stroke-linecap="butt"/>
<line x1="769.25" y1="1374.25" x2="902" y2="1374.25" stroke="#000" stroke-width="2.0" stroke-linecap="butt"/>
<line x1="769.25" y1="1188.5" x2="777" y2="1188.5" stroke="#000" stroke-width="2.0" stroke-linecap="butt"/>
<text x="768.3" y="1193.4" font-size="14.3" font-weight="bold" text-anchor="end">50</text>
<line x1="769.25" y1="1225" x2="777" y2="1225" stroke="#000" stroke-width="2.0" stroke-linecap="butt"/>
<text x="768.3" y="1229.9" font-size="14.3" font-weight="bold" text-anchor="end">40</text>
<line x1="769.25" y1="1262.25" x2="777" y2="1262.25" stroke="#000" stroke-width="2.0" stroke-linecap="butt"/>
<text x="768.3" y="1267.15" font-size="14.3" font-weight="bold" text-anchor="end">30</text>
<line x1="769.25" y1="1299.5" x2="777" y2="1299.5" stroke="#000" stroke-width="2.0" stroke-linecap="butt"/>
<text x="768.3" y="1304.4" font-size="14.3" font-weight="bold" text-anchor="end">20</text>
<line x1="769.25" y1="1337" x2="777" y2="1337" stroke="#000" stroke-width="2.0" stroke-linecap="butt"/>
<text x="768.3" y="1341.9" font-size="14.3" font-weight="bold" text-anchor="end">10</text>
<text x="768.3" y="1379.15" font-size="14.3" font-weight="bold" text-anchor="end">0</text>
<line x1="812.6" y1="1291.5" x2="865.9" y2="1208.8" stroke="#000" stroke-width="1.1" stroke-linecap="butt"/>
<line x1="812.6" y1="1305.5" x2="865.9" y2="1223.5" stroke="#000" stroke-width="1.1" stroke-linecap="butt"/>
<line x1="812.6" y1="1345.3" x2="865.9" y2="1335.3" stroke="#000" stroke-width="1.1" stroke-linecap="butt"/>
<line x1="812.6" y1="1347.4" x2="865.9" y2="1344.2" stroke="#000" stroke-width="1.1" stroke-linecap="butt"/>
<line x1="812.6" y1="1346.4" x2="865.9" y2="1342.6" stroke="#000" stroke-width="1.1" stroke-linecap="butt"/>
<line x1="812.6" y1="1358.4" x2="865.9" y2="1341" stroke="#000" stroke-width="1.1" stroke-linecap="butt"/>
<line x1="812.6" y1="1374.25" x2="812.6" y2="1382.85" stroke="#000" stroke-width="2.0" stroke-linecap="butt"/>
<line x1="865.9" y1="1374.25" x2="865.9" y2="1382.85" stroke="#000" stroke-width="2.0" stroke-linecap="butt"/>
<circle cx="812.6" cy="1291.5" r="3.55" fill="#0a3cff"/>
<circle cx="812.6" cy="1305.5" r="3.55" fill="#0a3cff"/>
<circle cx="812.6" cy="1345.3" r="3.55" fill="#0a3cff"/>
<circle cx="812.6" cy="1347.4" r="3.55" fill="#0a3cff"/>
<circle cx="812.6" cy="1358.4" r="3.55" fill="#0a3cff"/>
<path d="M862.15 1212.35L869.65 1212.35L865.9 1205.05Z" fill="#ff2d0a"/>
<path d="M862.15 1227.1L869.65 1227.1L865.9 1219.8Z" fill="#ff2d0a"/>
<path d="M862.15 1338.75L869.65 1338.75L865.9 1331.45Z" fill="#ff2d0a"/>
<path d="M862.15 1344.45L869.65 1344.45L865.9 1337.15Z" fill="#ff2d0a"/>
<path d="M862.15 1347.75L869.65 1347.75L865.9 1340.45Z" fill="#ff2d0a"/>
<text x="839.3" y="1197.8" font-size="15" font-weight="normal" text-anchor="middle">*</text>
<line x1="823.1" y1="1199.5" x2="857.1" y2="1199.5" stroke="#111" stroke-width="1.3" stroke-linecap="butt"/>
<text x="742" y="1281.25" font-size="14.9" font-weight="bold" text-anchor="middle" transform="rotate(-90 742 1281.25)">IL-4 (pg/ml)</text>
<text x="816.6" y="1393.25" font-size="14.4" font-weight="bold" text-anchor="end" transform="rotate(-45 816.6 1393.25)">Baso+IL-3</text>
<text x="869.9" y="1393.25" font-size="14.4" font-weight="bold" text-anchor="end" transform="rotate(-45 869.9 1393.25)">Baso+IL-3+SARS-CoV-2</text>
<line x1="1029.5" y1="1194.75" x2="1029.5" y2="1375.25" stroke="#000" stroke-width="2.0" stroke-linecap="butt"/>
<line x1="1021.75" y1="1374.25" x2="1148.75" y2="1374.25" stroke="#000" stroke-width="2.0" stroke-linecap="butt"/>
<line x1="1021.75" y1="1195.75" x2="1029.5" y2="1195.75" stroke="#000" stroke-width="2.0" stroke-linecap="butt"/>
<text x="1020.8" y="1200.65" font-size="14.3" font-weight="bold" text-anchor="end">800</text>
<line x1="1021.75" y1="1240" x2="1029.5" y2="1240" stroke="#000" stroke-width="2.0" stroke-linecap="butt"/>
<text x="1020.8" y="1244.9" font-size="14.3" font-weight="bold" text-anchor="end">600</text>
<line x1="1021.75" y1="1284.75" x2="1029.5" y2="1284.75" stroke="#000" stroke-width="2.0" stroke-linecap="butt"/>
<text x="1020.8" y="1289.65" font-size="14.3" font-weight="bold" text-anchor="end">400</text>
<line x1="1021.75" y1="1329.75" x2="1029.5" y2="1329.75" stroke="#000" stroke-width="2.0" stroke-linecap="butt"/>
<text x="1020.8" y="1334.65" font-size="14.3" font-weight="bold" text-anchor="end">200</text>
<text x="1020.8" y="1379.15" font-size="14.3" font-weight="bold" text-anchor="end">0</text>
<line x1="1063.45" y1="1305.4" x2="1114.7" y2="1229.8" stroke="#000" stroke-width="1.1" stroke-linecap="butt"/>
<line x1="1063.45" y1="1310.9" x2="1114.7" y2="1235.8" stroke="#000" stroke-width="1.1" stroke-linecap="butt"/>
<line x1="1063.45" y1="1351.9" x2="1114.7" y2="1329.9" stroke="#000" stroke-width="1.1" stroke-linecap="butt"/>
<line x1="1063.45" y1="1354.4" x2="1114.7" y2="1343.7" stroke="#000" stroke-width="1.1" stroke-linecap="butt"/>
<line x1="1063.45" y1="1364.9" x2="1114.7" y2="1345.8" stroke="#000" stroke-width="1.1" stroke-linecap="butt"/>
<line x1="1063.45" y1="1360" x2="1114.7" y2="1356.3" stroke="#000" stroke-width="1.1" stroke-linecap="butt"/>
<line x1="1063.45" y1="1374.25" x2="1063.45" y2="1382.85" stroke="#000" stroke-width="2.0" stroke-linecap="butt"/>
<line x1="1114.7" y1="1374.25" x2="1114.7" y2="1382.85" stroke="#000" stroke-width="2.0" stroke-linecap="butt"/>
<circle cx="1063.45" cy="1305.4" r="3.55" fill="#0a3cff"/>
<circle cx="1063.45" cy="1310.9" r="3.55" fill="#0a3cff"/>
<circle cx="1063.45" cy="1352" r="3.55" fill="#0a3cff"/>
<circle cx="1063.45" cy="1354.6" r="3.55" fill="#0a3cff"/>
<circle cx="1063.45" cy="1360.2" r="3.55" fill="#0a3cff"/>
<circle cx="1063.45" cy="1365" r="3.55" fill="#0a3cff"/>
<path d="M1111 1232.2L1118.4 1232.2L1114.7 1225.2Z" fill="#ff2d0a"/>
<path d="M1111 1238.2L1118.4 1238.2L1114.7 1231.2Z" fill="#ff2d0a"/>
<path d="M1111 1334L1118.4 1334L1114.7 1327Z" fill="#ff2d0a"/>
<path d="M1111 1347.7L1118.4 1347.7L1114.7 1340.7Z" fill="#ff2d0a"/>
<path d="M1111 1349.8L1118.4 1349.8L1114.7 1342.8Z" fill="#ff2d0a"/>
<path d="M1111 1359.9L1118.4 1359.9L1114.7 1352.9Z" fill="#ff2d0a"/>
<text x="1089.3" y="1209.6" font-size="15" font-weight="normal" text-anchor="middle">*</text>
<line x1="1071.7" y1="1210.5" x2="1109" y2="1210.5" stroke="#111" stroke-width="1.3" stroke-linecap="butt"/>
<text x="986.3" y="1283.5" font-size="14.4" font-weight="bold" text-anchor="middle" transform="rotate(-90 986.3 1283.5)">IL-13 (pg/ml)</text>
<text x="1066.45" y="1393.55" font-size="15.0" font-weight="bold" text-anchor="end" transform="rotate(-45 1066.45 1393.55)">Baso+IL-3</text>
<text x="1117.7" y="1393.55" font-size="15.0" font-weight="bold" text-anchor="end" transform="rotate(-45 1117.7 1393.55)">Baso+IL-3+SARS-CoV-2</text>
</svg>
</body></html>
